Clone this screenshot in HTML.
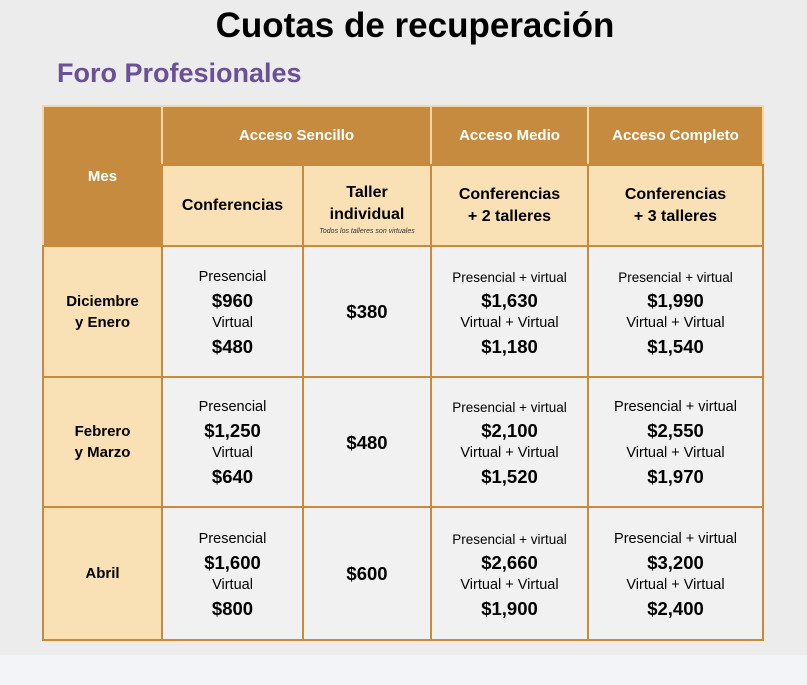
<!DOCTYPE html>
<html><head><meta charset="utf-8"><style>
body{margin:0;width:807px;height:685px;background:#f3f4f8;font-family:"Liberation Sans",sans-serif;position:relative;overflow:hidden}
.bg{position:absolute;left:0;top:0;width:807px;height:655px;background:#ececec}
h1{position:absolute;left:0;width:830px;top:6px;margin:0;text-align:center;font-size:35px;font-weight:bold;color:#000;letter-spacing:0}
h2{position:absolute;left:57px;top:58px;margin:0;font-size:27px;font-weight:bold;color:#6a5196}
.c{position:absolute;box-sizing:border-box;display:flex;flex-direction:column;justify-content:center;align-items:center;text-align:center;color:#000}
.h{background:#c68b3e;color:#fff;font-weight:bold;font-size:15px;border:2px solid #f5d7a6}
.l{background:#fae0b5;font-weight:bold;font-size:16px;border:2px solid #c98a3a;line-height:22px}
.w{background:#f1f1f1;border:2px solid #c98a3a}
.s{font-size:14.5px;line-height:23px}
.p{font-size:18.5px;font-weight:bold;line-height:23px}
.m{font-weight:bold;font-size:15px;line-height:21px}
</style></head><body>
<div class="bg"></div>
<h1>Cuotas de recuperación</h1>
<h2>Foro Profesionales</h2>

<div class="c h" style="left:42px;top:105px;width:121px;height:142px;padding-bottom:0px">Mes</div>
<div class="c h" style="left:161px;top:105px;width:271px;height:61px">Acceso Sencillo</div>
<div class="c h" style="left:430px;top:105px;width:159px;height:61px">Acceso Medio</div>
<div class="c h" style="left:587px;top:105px;width:177px;height:61px">Acceso Completo</div>

<div class="c l" style="left:161px;top:164px;width:143px;height:83px">Conferencias</div>
<div class="c l" style="left:302px;top:164px;width:130px;height:83px"><div style="margin-top:8px">Taller<br>individual</div><div style="font-size:7px;font-style:italic;font-weight:normal;line-height:12px;color:#333">Todos los talleres son virtuales</div></div>
<div class="c l" style="left:430px;top:164px;width:159px;height:83px">Conferencias<br>+ 2 talleres</div>
<div class="c l" style="left:587px;top:164px;width:177px;height:83px">Conferencias<br>+ 3 talleres</div>

<!-- row1 -->
<div class="c l m" style="left:42px;top:245px;width:121px;height:133px">Diciembre<br>y Enero</div>
<div class="c w" style="left:161px;top:245px;width:143px;height:133px"><div class="s">Presencial</div><div class="p">$960</div><div class="s">Virtual</div><div class="p">$480</div></div>
<div class="c w" style="left:302px;top:245px;width:130px;height:133px"><div class="p">$380</div></div>
<div class="c w" style="left:430px;top:245px;width:159px;height:133px"><div class="s" style="font-size:13.5px">Presencial + virtual</div><div class="p">$1,630</div><div class="s">Virtual + Virtual</div><div class="p">$1,180</div></div>
<div class="c w" style="left:587px;top:245px;width:177px;height:133px"><div class="s" style="font-size:13.5px">Presencial + virtual</div><div class="p">$1,990</div><div class="s">Virtual + Virtual</div><div class="p">$1,540</div></div>

<!-- row2 -->
<div class="c l m" style="left:42px;top:376px;width:121px;height:132px">Febrero<br>y Marzo</div>
<div class="c w" style="left:161px;top:376px;width:143px;height:132px"><div class="s">Presencial</div><div class="p">$1,250</div><div class="s">Virtual</div><div class="p">$640</div></div>
<div class="c w" style="left:302px;top:376px;width:130px;height:132px"><div class="p">$480</div></div>
<div class="c w" style="left:430px;top:376px;width:159px;height:132px"><div class="s" style="font-size:13.5px">Presencial + virtual</div><div class="p">$2,100</div><div class="s">Virtual + Virtual</div><div class="p">$1,520</div></div>
<div class="c w" style="left:587px;top:376px;width:177px;height:132px"><div class="s">Presencial + virtual</div><div class="p">$2,550</div><div class="s">Virtual + Virtual</div><div class="p">$1,970</div></div>

<!-- row3 -->
<div class="c l m" style="left:42px;top:506px;width:121px;height:135px">Abril</div>
<div class="c w" style="left:161px;top:506px;width:143px;height:135px"><div class="s">Presencial</div><div class="p">$1,600</div><div class="s">Virtual</div><div class="p">$800</div></div>
<div class="c w" style="left:302px;top:506px;width:130px;height:135px"><div class="p">$600</div></div>
<div class="c w" style="left:430px;top:506px;width:159px;height:135px"><div class="s" style="font-size:13.5px">Presencial + virtual</div><div class="p">$2,660</div><div class="s">Virtual + Virtual</div><div class="p">$1,900</div></div>
<div class="c w" style="left:587px;top:506px;width:177px;height:135px"><div class="s">Presencial + virtual</div><div class="p">$3,200</div><div class="s">Virtual + Virtual</div><div class="p">$2,400</div></div>
</body></html>
